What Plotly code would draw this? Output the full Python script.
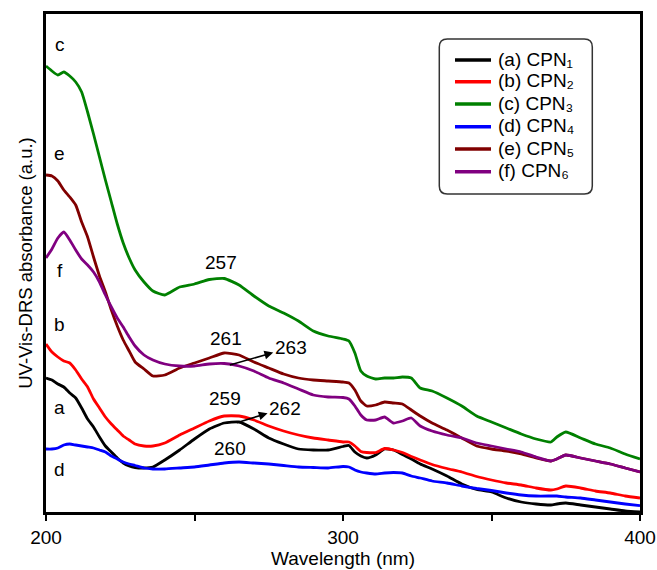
import plotly.graph_objects as go

# ---------------- data ----------------
wavelength = [200, 202, 204, 206, 208, 210, 212, 214, 216, 218, 220, 222, 224, 226, 228, 230,
              233, 236, 240, 245, 250, 255, 260, 265, 270, 275, 280, 285, 290, 295, 300,
              302, 304, 306, 308, 311, 314, 317, 320, 323, 326, 330, 335, 340, 345, 350,
              355, 360, 365, 370, 372, 375, 380, 385, 390, 395, 400]

abs_a = [1.34, 1.32, 1.28, 1.25, 1.19, 1.14, 1.04, 0.93, 0.85, 0.75, 0.66, 0.60, 0.54, 0.49, 0.46, 0.445,
         0.44, 0.45, 0.52, 0.62, 0.73, 0.83, 0.89, 0.90, 0.83, 0.74, 0.68, 0.63, 0.62, 0.62, 0.655,
         0.665, 0.60, 0.56, 0.54, 0.57, 0.63, 0.62, 0.575, 0.53, 0.48, 0.43, 0.36, 0.28, 0.225, 0.20,
         0.14, 0.10, 0.08, 0.07, 0.08, 0.09, 0.07, 0.05, 0.03, 0.01, 0.0]

abs_b = [1.68, 1.60, 1.55, 1.51, 1.49, 1.42, 1.33, 1.25, 1.13, 1.04, 0.95, 0.88, 0.82, 0.76, 0.72, 0.68,
         0.66, 0.66, 0.69, 0.77, 0.84, 0.91, 0.96, 0.96, 0.92, 0.86, 0.81, 0.77, 0.74, 0.72, 0.70,
         0.70, 0.66, 0.605, 0.595, 0.595, 0.635, 0.62, 0.595, 0.555, 0.52, 0.475, 0.435, 0.40, 0.355, 0.32,
         0.29, 0.27, 0.24, 0.22, 0.23, 0.26, 0.24, 0.21, 0.19, 0.16, 0.14]

abs_c = [4.46, 4.41, 4.37, 4.40, 4.36, 4.30, 4.20, 4.00, 3.78, 3.55, 3.32, 3.10, 2.88, 2.69, 2.54, 2.42,
         2.30, 2.21, 2.17, 2.25, 2.28, 2.325, 2.335, 2.27, 2.16, 2.06, 1.99, 1.91, 1.81, 1.76, 1.73,
         1.71, 1.59, 1.41, 1.36, 1.33, 1.34, 1.34, 1.35, 1.34, 1.24, 1.21, 1.14, 1.06, 0.96, 0.90,
         0.84, 0.78, 0.73, 0.70, 0.75, 0.80, 0.74, 0.68, 0.64, 0.58, 0.53]

abs_d = [0.63, 0.63, 0.64, 0.67, 0.68, 0.67, 0.66, 0.65, 0.64, 0.62, 0.60, 0.56, 0.53, 0.50, 0.48, 0.465,
         0.44, 0.43, 0.43, 0.44, 0.45, 0.47, 0.49, 0.50, 0.49, 0.48, 0.465, 0.45, 0.445, 0.44, 0.455,
         0.45, 0.42, 0.40, 0.39, 0.38, 0.39, 0.395, 0.39, 0.36, 0.34, 0.31, 0.29, 0.26, 0.235, 0.215,
         0.19, 0.17, 0.16, 0.16, 0.16, 0.15, 0.14, 0.12, 0.10, 0.08, 0.063]

abs_e = [3.37, 3.36, 3.31, 3.22, 3.15, 3.07, 2.90, 2.75, 2.55, 2.36, 2.20, 2.02, 1.86, 1.72, 1.61, 1.50,
         1.43, 1.36, 1.37, 1.44, 1.49, 1.54, 1.59, 1.57, 1.50, 1.44, 1.38, 1.34, 1.32, 1.31, 1.30,
         1.29, 1.22, 1.11, 1.06, 1.07, 1.10, 1.09, 1.08, 1.02, 0.96, 0.89, 0.82, 0.74, 0.66, 0.63,
         0.61, 0.58, 0.54, 0.51, 0.53, 0.57, 0.54, 0.51, 0.48, 0.44, 0.40]

abs_f = [2.54, 2.63, 2.74, 2.80, 2.72, 2.62, 2.53, 2.47, 2.40, 2.30, 2.17, 2.05, 1.94, 1.85, 1.75, 1.66,
         1.57, 1.52, 1.48, 1.46, 1.46, 1.48, 1.485, 1.46, 1.41, 1.34, 1.29, 1.23, 1.17, 1.15, 1.145,
         1.13, 1.06, 0.97, 0.92, 0.92, 0.95, 0.89, 0.91, 0.94, 0.86, 0.81, 0.77, 0.74, 0.69, 0.66,
         0.63, 0.60, 0.55, 0.51, 0.53, 0.57, 0.54, 0.51, 0.48, 0.44, 0.40]

series_names = ["(a) CPN₁", "(b) CPN₂", "(c) CPN₃", "(d) CPN₄", "(e) CPN₅", "(f) CPN₆"]
series_values = [abs_a, abs_b, abs_c, abs_d, abs_e, abs_f]
series_colors = ["#000000", "#ff0000", "#008000", "#0000ff", "#800000", "#800080"]

x_tick_values = [200, 300, 400]
x_minor_ticks = [250, 350]

curve_letters = ["c", "e", "f", "b", "a", "d"]
curve_letter_y = [4.68, 3.59, 2.42, 1.88, 1.05, 0.43]

# plain peak labels
peak_labels = ["257", "261", "259", "260"]
peak_label_x = [258.9, 260.5, 260.4, 261.8]
peak_label_y = [2.50, 1.74, 1.14, 0.64]

# peak labels with an arrow from the curve to the label
arrow_labels = ["263", "262"]
arrow_label_x = [282.4, 280.5]
arrow_label_y = [1.645, 1.04]
arrow_point_x = [261.9, 264.2]
arrow_point_y = [1.47, 0.893]

FONT = "Liberation Sans, Arial, Helvetica, sans-serif"

fig = go.Figure()
for name, vals, col in zip(series_names, series_values, series_colors):
    fig.add_trace(go.Scatter(x=wavelength, y=vals, mode="lines", name=name,
                             line=dict(color=col, width=2.8, shape="spline", smoothing=0.5),
                             showlegend=False))

annotations = []
for t, y in zip(curve_letters, curve_letter_y):
    annotations.append(dict(x=204.7, y=y, xref="x", yref="y", text=t, showarrow=False,
                            font=dict(size=19, color="black", family=FONT)))
for t, x, y in zip(peak_labels, peak_label_x, peak_label_y):
    annotations.append(dict(x=x, y=y, xref="x", yref="y", text=t, showarrow=False,
                            font=dict(size=19, color="black", family=FONT)))
for t, lx, ly, cx, cy in zip(arrow_labels, arrow_label_x, arrow_label_y, arrow_point_x, arrow_point_y):
    annotations.append(dict(x=cx, y=cy, ax=lx, ay=ly, xref="x", yref="y", axref="x", ayref="y",
                            text=t, showarrow=True, arrowside="start", arrowhead=2,
                            startarrowhead=2, startarrowsize=1.1, arrowsize=1.1, arrowwidth=1.6,
                            arrowcolor="black", font=dict(size=19, color="black", family=FONT)))

# ---- manual legend (rounded box) ----
L, R, T, B = 46, 640, 14, 512
W, H = R - L, B - T
def px(xp):
    return (xp - L) / W
def py(yp):
    return (B - yp) / H

shapes = []
x0, x1 = px(439.3), px(592.3)
y0, y1 = py(194), py(39)
rx, ry = 8 / W, 8 / H
path = (f"M {x0+rx},{y1} L {x1-rx},{y1} Q {x1},{y1} {x1},{y1-ry} L {x1},{y0+ry} "
        f"Q {x1},{y0} {x1-rx},{y0} L {x0+rx},{y0} Q {x0},{y0} {x0},{y0+ry} "
        f"L {x0},{y1-ry} Q {x0},{y1} {x0+rx},{y1} Z")
shapes.append(dict(type="path", xref="paper", yref="paper", path=path,
                   line=dict(color="#333333", width=1.5), fillcolor="white", layer="above"))
row_y = [60, 81.7, 104, 126.7, 149, 171.7]
for name, col, ry_ in zip(series_names, series_colors, row_y):
    shapes.append(dict(type="line", xref="paper", yref="paper", x0=px(455), x1=px(491),
                       y0=py(ry_), y1=py(ry_), line=dict(color=col, width=3.5), layer="above"))
    annotations.append(dict(x=px(496), y=py(ry_ - 1), xref="paper", yref="paper", text=name,
                            showarrow=False, xanchor="left", yanchor="middle",
                            font=dict(size=19, color="black", family=FONT)))

fig.update_layout(
    width=657, height=570,
    margin=dict(l=L, r=657 - R, t=T, b=570 - B),
    paper_bgcolor="white", plot_bgcolor="white",
    font=dict(family=FONT, size=19, color="black"),
    annotations=annotations, shapes=shapes,
    xaxis=dict(range=[200, 400], tickvals=x_tick_values, ticks="outside", ticklen=6,
               tickwidth=2, tickcolor="black", showline=True, linewidth=2.8, linecolor="black",
               mirror=True, showgrid=False, zeroline=False,
               minor=dict(tickvals=x_minor_ticks, ticks="outside", ticklen=6, tickwidth=2,
                          tickcolor="black", showgrid=False),
               tickfont=dict(size=19, family=FONT),
               title=dict(text="Wavelength (nm)", font=dict(size=19, family=FONT), standoff=4),
               automargin=False),
    yaxis=dict(range=[0, 4.98], showticklabels=False, ticks="", showline=True, linewidth=2.8,
               linecolor="black", mirror=True, showgrid=False, zeroline=False,
               title=dict(text="UV-Vis-DRS absorbance (a.u.)", font=dict(size=18.5, family=FONT),
                          standoff=6),
               automargin=False),
)

fig.write_html("out.html")
